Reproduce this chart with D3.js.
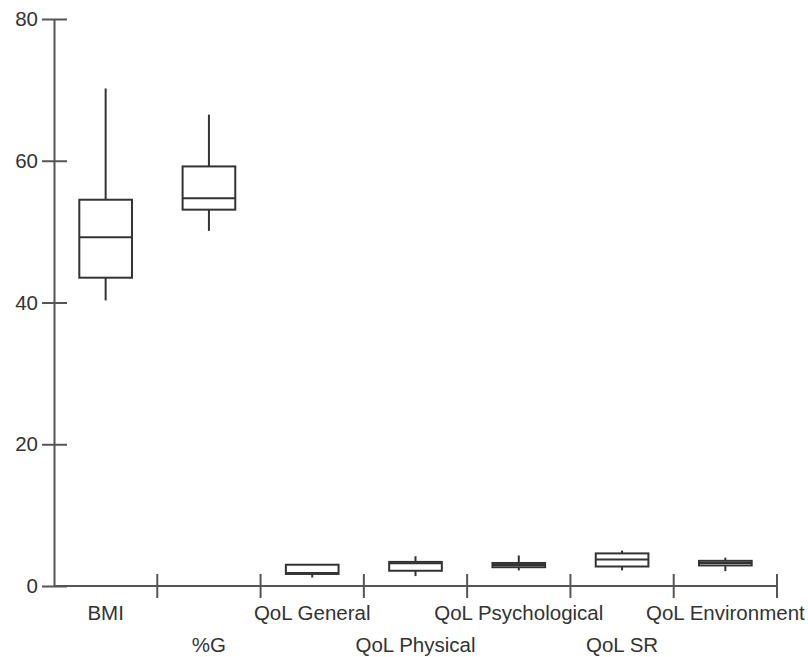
<!DOCTYPE html>
<html>
<head>
<meta charset="utf-8">
<script src="https://cdn.jsdelivr.net/npm/d3@7"></script>
<style>
    body { margin: 0; background: #fff; }
    svg text { font-family: "Liberation Sans", Arial, sans-serif; fill: #333; }
</style>
</head>
<body>
<svg id="chart"></svg>
<script>
const categories = ["BMI", "%G", "QoL General", "QoL Physical", "QoL Psychological", "QoL SR", "QoL Environment"];
const whiskerLow = [40.3, 50.1, 1.2, 1.4, 2.2, 2.2, 2.1];
const q1 = [43.5, 53.1, 1.7, 2.15, 2.65, 2.75, 2.9];
const medians = [49.2, 54.7, 1.85, 3.2, 2.95, 3.75, 3.25];
const q3 = [54.5, 59.2, 3.0, 3.4, 3.25, 4.6, 3.55];
const whiskerHigh = [70.2, 66.5, 3.0, 4.2, 4.3, 5.0, 4.0];
const yTicks = [0, 20, 40, 60, 80];

class BoxPlotChart {
    constructor(_config, _data) {
        this.config = {
            parentElement: _config.parentElement,
            containerWidth: _config.containerWidth || 808,
            containerHeight: _config.containerHeight || 657,
            margin: _config.margin || { top: 19, right: 31, bottom: 71, left: 54 },
            fontSize: 20.5,
        };
        this.data = _data;
        this.initVis();
    }

    initVis() {
        let vis = this;

        vis.width = vis.config.containerWidth - vis.config.margin.left - vis.config.margin.right;
        vis.height = vis.config.containerHeight - vis.config.margin.top - vis.config.margin.bottom;

        vis.svg = d3.select(vis.config.parentElement)
            .attr("width", vis.config.containerWidth)
            .attr("height", vis.config.containerHeight);

        vis.chart = vis.svg.append("g")
            .attr("transform", `translate(${vis.config.margin.left}, ${vis.config.margin.top})`);

        vis.xScale = d3.scaleBand()
            .domain(categories)
            .range([0, vis.width])
            .paddingInner(0)
            .paddingOuter(0);

        vis.yScale = d3.scaleLinear()
            .domain([0, 80])
            .range([vis.height, 0]);
    }

    renderVis() {
        const vis = this;
        const bw = vis.xScale.bandwidth();
        const boxW = bw * 0.51;

        // y axis, ticks crossing the line
        const yAxis = vis.chart.append("g")
            .call(d3.axisLeft(vis.yScale).tickValues(yTicks).tickSizeInner(12).tickSizeOuter(0).tickPadding(4));
        yAxis.select(".domain").attr("stroke", "#555").attr("stroke-width", 2);
        yAxis.selectAll(".tick line").attr("x1", 13).attr("stroke", "#555").attr("stroke-width", 2);
        yAxis.selectAll(".tick text")
            .style("font-size", vis.config.fontSize + "px")
            .attr("fill", "#333");

        // x axis: line, boundary ticks, staggered labels
        const xAxis = vis.chart.append("g").attr("transform", `translate(0, ${vis.height})`);
        xAxis.append("line")
            .attr("x1", 0).attr("x2", vis.width)
            .attr("stroke", "#555").attr("stroke-width", 2);
        xAxis.selectAll(".xtick")
            .data(categories)
            .join("line")
            .attr("class", "xtick")
            .attr("x1", d => vis.xScale(d) + bw)
            .attr("x2", d => vis.xScale(d) + bw)
            .attr("y1", -12).attr("y2", 12)
            .attr("stroke", "#555").attr("stroke-width", 2);
        xAxis.selectAll(".xlabel")
            .data(categories)
            .join("text")
            .attr("class", "xlabel")
            .attr("x", d => vis.xScale(d) + bw / 2)
            .attr("y", (d, i) => i % 2 === 0 ? 34 : 66)
            .attr("text-anchor", "middle")
            .style("font-size", vis.config.fontSize + "px")
            .text(d => d);

        // boxes
        const boxes = vis.chart.selectAll(".box")
            .data(vis.data)
            .join("g")
            .attr("class", "box")
            .attr("transform", d => `translate(${vis.xScale(d.name) + bw / 2}, 0)`);

        boxes.append("line")
            .attr("x1", 0).attr("x2", 0)
            .attr("y1", d => vis.yScale(d.hi))
            .attr("y2", d => vis.yScale(d.lo))
            .attr("stroke", "#333").attr("stroke-width", 2);

        boxes.append("rect")
            .attr("x", -boxW / 2)
            .attr("width", boxW)
            .attr("y", d => vis.yScale(d.q3))
            .attr("height", d => vis.yScale(d.q1) - vis.yScale(d.q3))
            .attr("fill", "#fff")
            .attr("stroke", "#333").attr("stroke-width", 2);

        boxes.append("line")
            .attr("x1", -boxW / 2).attr("x2", boxW / 2)
            .attr("y1", d => vis.yScale(d.med))
            .attr("y2", d => vis.yScale(d.med))
            .attr("stroke", "#333").attr("stroke-width", 2);
    }
}

const data = categories.map((name, i) => ({
    name: name,
    lo: whiskerLow[i],
    q1: q1[i],
    med: medians[i],
    q3: q3[i],
    hi: whiskerHigh[i],
}));

const chart = new BoxPlotChart({ parentElement: "#chart" }, data);
chart.renderVis();
</script>
</body>
</html>
